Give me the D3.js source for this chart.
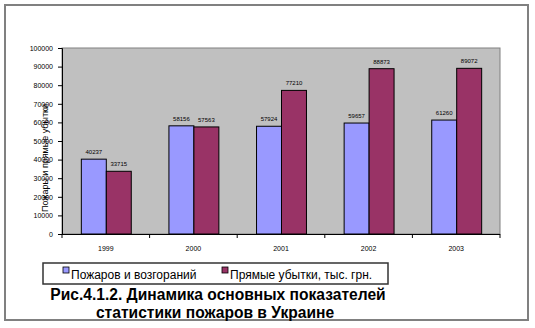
<!DOCTYPE html>
<html>
<head>
<meta charset="utf-8">
<script src="https://cdn.jsdelivr.net/npm/d3@7"></script>
<style>
  html, body { margin: 0; padding: 0; background: #fff; }
  svg { display: block; font-family: Arial, "Liberation Sans", sans-serif; }
</style>
</head>
<body>
<svg id="chart" width="535" height="328"></svg>
<script>
// Fire statistics in Ukraine, 1999–2003
const years = ["1999", "2000", "2001", "2002", "2003"];
const fires = [40237, 58156, 57924, 59657, 61260];
const losses = [33715, 57563, 77210, 88873, 89072];
const seriesNames = ["Пожаров и возгораний", "Прямые убытки, тыс. грн."];
const seriesColors = ["#9999FF", "#993366"];
const yTicks = [0, 10000, 20000, 30000, 40000, 50000, 60000, 70000, 80000, 90000, 100000];
const yTitle = "Пожары и прямые убытки";
const captionLines = ["Рис.4.1.2. Динамика основных показателей", "статистики пожаров в Украине"];

const svg = d3.select("#chart");

// outer frame
svg.append("rect")
  .attr("x", 5).attr("y", 5).attr("width", 523).attr("height", 315)
  .attr("fill", "#fff").attr("stroke", "#808080").attr("stroke-width", 2);

const plot = { left: 62, right: 500, top: 48, bottom: 234 };

const x0 = d3.scaleBand().domain(years)
  .range([plot.left, plot.right])
  .paddingInner(0.43).paddingOuter(0.215);
const x1 = d3.scaleBand().domain([0, 1]).range([0, x0.bandwidth()]);
const y = d3.scaleLinear().domain([0, 100000]).range([plot.bottom, plot.top]);

// plot area
svg.append("rect")
  .attr("x", plot.left).attr("y", plot.top)
  .attr("width", plot.right - plot.left).attr("height", plot.bottom - plot.top)
  .attr("fill", "#C0C0C0").attr("stroke", "#808080").attr("stroke-width", 1);

// bars
const rows = years.map((yr, i) => ({ year: yr, values: [fires[i], losses[i]] }));
const groups = svg.append("g").selectAll("g").data(rows).join("g")
  .attr("transform", d => `translate(${x0(d.year)},0)`);

groups.selectAll("rect").data(d => d.values.map((v, k) => ({ v, k }))).join("rect")
  .attr("x", d => x1(d.k) + 0.5)
  .attr("y", d => y(d.v))
  .attr("width", x1.bandwidth())
  .attr("height", d => y(0) - y(d.v))
  .attr("fill", d => seriesColors[d.k])
  .attr("stroke", "#000").attr("stroke-width", 1);

// value labels above bars
groups.selectAll("text").data(d => d.values.map((v, k) => ({ v, k }))).join("text")
  .attr("x", d => x1(d.k) + x1.bandwidth() / 2 + 0.5)
  .attr("y", d => y(d.v) - 5)
  .attr("text-anchor", "middle")
  .attr("font-size", 6)
  .attr("fill", "#000")
  .text(d => d.v);

// y axis
const yAxis = d3.axisLeft(y).tickValues(yTicks).tickSize(4).tickPadding(5).tickFormat(d3.format("d"));
const gy = svg.append("g").attr("transform", `translate(${plot.left},0)`).call(yAxis);
gy.select(".domain").attr("stroke", "#000");
gy.selectAll(".tick line").attr("stroke", "#000");
gy.selectAll(".tick text").attr("font-size", 7).attr("font-family", "Arial, 'Liberation Sans', sans-serif").attr("fill", "#000");

// x axis: tick marks sit on the category boundaries
const gap = x0.step() - x0.bandwidth();
const bounds = years.map(yr => x0(yr) - gap / 2).concat([plot.right]);
const gx = svg.append("g");
gx.append("line")
  .attr("x1", plot.left).attr("x2", plot.right)
  .attr("y1", plot.bottom + 0.5).attr("y2", plot.bottom + 0.5)
  .attr("stroke", "#000");
gx.selectAll("line.tk").data(bounds).join("line").attr("class", "tk")
  .attr("x1", d => d).attr("x2", d => d)
  .attr("y1", plot.bottom).attr("y2", plot.bottom + 4)
  .attr("stroke", "#000");
gx.selectAll("text").data(years).join("text")
  .attr("x", d => x0(d) + x0.bandwidth() / 2)
  .attr("y", 251)
  .attr("text-anchor", "middle")
  .attr("font-size", 7)
  .text(d => d);

// y axis title
svg.append("text")
  .attr("transform", "translate(48,158) rotate(-90)")
  .attr("text-anchor", "middle")
  .attr("font-size", 9)
  .text(yTitle);

// legend
const legend = svg.append("g");
legend.append("rect")
  .attr("x", 43).attr("y", 263).attr("width", 345).attr("height", 21)
  .attr("fill", "#fff").attr("stroke", "#333").attr("stroke-width", 1.5);
const legendX = [63, 222];
seriesNames.forEach((name, k) => {
  legend.append("rect")
    .attr("x", legendX[k]).attr("y", 267).attr("width", 6).attr("height", 6)
    .attr("fill", seriesColors[k]).attr("stroke", "#000").attr("stroke-width", 0.8);
  legend.append("text")
    .attr("x", legendX[k] + 8).attr("y", 279)
    .attr("font-size", 12)
    .text(name);
});

// caption
svg.selectAll("text.caption").data(captionLines).join("text")
  .attr("class", "caption")
  .attr("x", (d, i) => i === 0 ? 218 : 215)
  .attr("y", (d, i) => 300 + i * 18)
  .attr("text-anchor", "middle")
  .attr("font-size", 15.6)
  .attr("font-weight", "bold")
  .text(d => d);
</script>
</body>
</html>
